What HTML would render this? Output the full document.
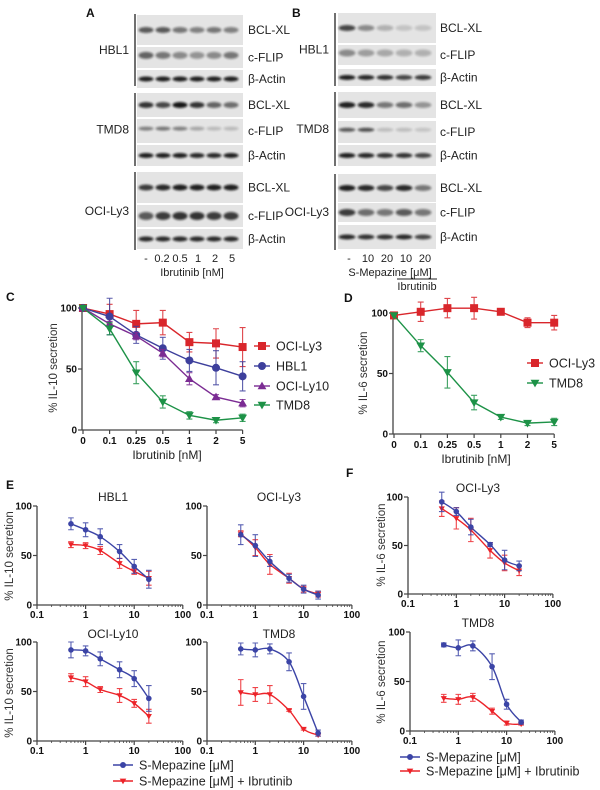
<!DOCTYPE html>
<html><head><meta charset="utf-8">
<style>
html,body{margin:0;padding:0;background:#fff;}
svg{display:block;font-family:"Liberation Sans",sans-serif;}
.lbl{font-size:12px;fill:#222;}
.pl{font-size:12px;font-weight:bold;fill:#111;}
.tk{font-size:10px;font-weight:bold;fill:#111;}
.yt{font-size:11.5px;fill:#333;}
.lg{font-size:12.5px;fill:#222;}
</style></head>
<body>
<svg id="fig" width="600" height="790" viewBox="0 0 600 790">
<defs><filter id="blur" x="-50%" y="-100%" width="200%" height="300%"><feGaussianBlur stdDeviation="1.1"/></filter></defs>
<text class="pl" x="86" y="17">A</text>
<text class="pl" x="292" y="17">B</text>
<text class="pl" x="6" y="301">C</text>
<text class="pl" x="344" y="302">D</text>
<text class="pl" x="6" y="489">E</text>
<text class="pl" x="346" y="477">F</text>
<g id="blots"></g>
<g class="lbl" text-anchor="middle" style="font-size:11px">
<text x="146" y="262">-</text><text x="162" y="262">0.2</text><text x="180" y="262">0.5</text><text x="198" y="262">1</text><text x="215" y="262">2</text><text x="232" y="262">5</text>
<text x="192" y="276">Ibrutinib [nM]</text>
</g>
<g class="lbl" text-anchor="middle" style="font-size:11px">
<text x="349" y="262">-</text><text x="368" y="262">10</text><text x="387" y="262">20</text><text x="406" y="262">10</text><text x="425" y="262">20</text>
<text x="390" y="276">S-Mepazine [μM]</text>
<line x1="397" y1="279" x2="437" y2="279" stroke="#222" stroke-width="1"/>
<text x="417" y="290">Ibrutinib</text>
</g>
<g id="charts"></g>
</svg>
<script>
const laneA = ['-', '0.2', '0.5', '1', '2', '5'];
const laneB = ['-', '10', '20', '10', '20'];
const blotA_HBL1_BCLXL = [0.6,0.6,0.45,0.4,0.45,0.4];
const blotA_HBL1_CFLIP = [0.55,0.45,0.35,0.3,0.35,0.45];
const blotA_HBL1_ACTIN = [0.9,0.9,0.9,0.9,0.9,0.9];
const blotA_TMD8_BCLXL = [0.8,0.7,0.95,0.8,0.55,0.5];
const blotA_TMD8_CFLIP = [0.4,0.45,0.4,0.2,0.1,0.1];
const blotA_TMD8_ACTIN = [0.9,0.9,0.9,0.85,0.85,0.9];
const blotA_LY3_BCLXL = [0.75,0.85,0.9,0.9,0.9,0.9];
const blotA_LY3_CFLIP = [0.6,0.75,0.8,0.8,0.75,0.75];
const blotA_LY3_ACTIN = [0.85,0.85,0.85,0.85,0.85,0.85];
const blotB_HBL1_BCLXL = [0.7,0.35,0.15,0.05,0.05];
const blotB_HBL1_CFLIP = [0.35,0.25,0.2,0.15,0.15];
const blotB_HBL1_ACTIN = [0.9,0.85,0.8,0.7,0.75];
const blotB_TMD8_BCLXL = [0.9,0.85,0.45,0.5,0.3];
const blotB_TMD8_CFLIP = [0.6,0.65,0.08,0.08,0.05];
const blotB_TMD8_ACTIN = [0.9,0.85,0.8,0.8,0.7];
const blotB_LY3_BCLXL = [0.9,0.85,0.7,0.85,0.45];
const blotB_LY3_CFLIP = [0.75,0.5,0.45,0.6,0.45];
const blotB_LY3_ACTIN = [0.85,0.8,0.8,0.85,0.7];

const ibrCats = ['0','0.1','0.25','0.5','1','2','5'];
const cTicks = [0,50,100];
const c_Ly3 = [100,95,87,88,72,71,68];
const c_Ly3_err = [0,8,11,10,8,12,16];
const c_HBL1 = [100,93,78,67,57,51,44];
const c_HBL1_err = [0,15,7,9,9,14,12];
const c_Ly10 = [100,87,77,63,42,27,22];
const c_Ly10_err = [0,2,3,3,5,2,3];
const c_TMD8 = [100,83,47,23,12,8,10];
const c_TMD8_err = [0,5,9,5,3,2,3];
const d_Ly3 = [98,101,104,104,101,92,92];
const d_Ly3_err = [0,8,8,9,2,4,6];
const d_TMD8 = [98,73,51,26,14,9,10];
const d_TMD8_err = [0,5,13,6,2,2,3];

const mepDoses = [0.5,1,2,5,10,20];
const logTicks = [0.1,1,10,100];
const logTickLabels = ['0.1','1','10','100'];
const e_HBL1_mep = [82,76,69,54,39,26];
const e_HBL1_mep_err = [6,7,8,7,7,9];
const e_HBL1_comb = [61,60,55,42,34,27];
const e_HBL1_comb_err = [3,3,4,5,3,7];
const e_Ly3_mep = [71,60,44,27,16,10];
const e_Ly3_mep_err = [10,11,5,4,4,4];
const e_Ly3_comb = [72,58,41,27,16,11];
const e_Ly3_comb_err = [3,8,10,5,3,3];
const e_Ly10_mep = [92,91,83,72,63,43];
const e_Ly10_mep_err = [8,5,7,8,8,13];
const e_Ly10_comb = [64,60,52,46,38,25];
const e_Ly10_comb_err = [4,5,3,7,4,7];
const e_TMD8_mep = [93,92,93,80,45,8];
const e_TMD8_mep_err = [6,7,5,9,13,3];
const e_TMD8_comb = [49,47,47,31,12,6];
const e_TMD8_comb_err = [13,7,9,1,1,1];
const f_Ly3_mep = [95,85,69,51,35,29];
const f_Ly3_mep_err = [10,4,8,2,10,5];
const f_Ly3_comb = [88,78,66,45,32,24];
const f_Ly3_comb_err = [8,11,12,8,8,5];
const f_TMD8_mep = [87,84,86,65,27,9];
const f_TMD8_mep_err = [2,8,5,13,5,2];
const f_TMD8_comb = [33,32,34,20,8,7];
const f_TMD8_comb_err = [4,5,4,3,2,1];

const NS = 'http://www.w3.org/2000/svg';
function mk(tag, attrs, parent){
  const e = document.createElementNS(NS, tag);
  for (const k in attrs) e.setAttribute(k, attrs[k]);
  parent.appendChild(e);
  return e;
}
const root = document.getElementById('charts');
const blots = document.getElementById('blots');

function drawBlot(x, w, laneStart, laneStep, rows, lineX, groups, labelX, labelRightX){
  rows.forEach(r => {
    const strip = mk('rect', {x:x, y:r.y, width:w, height:r.h, fill:'#e4e4e4'}, blots);
    
    
    r.vals.forEach((v,i) => {
      const b = mk('ellipse', {cx: laneStart + i*laneStep, cy: r.y + r.h*r.pos, rx: laneStep*0.44, ry: r.bh, fill:'#111', opacity: Math.min(1, v*0.9+0.1), filter:'url(#blur)'}, blots);
      
      
    });
    const t = mk('text', {x: labelX, y: r.y + r.h/2 + 4, class:'lbl'}, blots);
    t.textContent = r.name;
    
    
  });
  groups.forEach(g => {
    const l = mk('line', {x1:lineX, x2:lineX, y1:g.y1, y2:g.y2, stroke:'#222', 'stroke-width':1.3}, blots);
    
    
    const t = mk('text', {x: labelRightX, y: (g.y1+g.y2)/2 + 4, class:'lbl', 'text-anchor':'end'}, blots);
    t.textContent = g.name;
    
    
  });
}
drawBlot(137, 106, 146, 17, [
  {y:15,h:30,vals:blotA_HBL1_BCLXL,name:'BCL-XL',pos:0.5,bh:3},
  {y:47,h:21,vals:blotA_HBL1_CFLIP,name:'c-FLIP',pos:0.4,bh:3.5},
  {y:70,h:18,vals:blotA_HBL1_ACTIN,name:'β-Actin',pos:0.5,bh:2.5},
  {y:93,h:24,vals:blotA_TMD8_BCLXL,name:'BCL-XL',pos:0.5,bh:3},
  {y:119,h:24,vals:blotA_TMD8_CFLIP,name:'c-FLIP',pos:0.4,bh:2},
  {y:145,h:21,vals:blotA_TMD8_ACTIN,name:'β-Actin',pos:0.5,bh:2.5},
  {y:172,h:31,vals:blotA_LY3_BCLXL,name:'BCL-XL',pos:0.5,bh:3},
  {y:205,h:22,vals:blotA_LY3_CFLIP,name:'c-FLIP',pos:0.5,bh:4},
  {y:229,h:20,vals:blotA_LY3_ACTIN,name:'β-Actin',pos:0.5,bh:2.5}
], 135, [{y1:14,y2:86,name:'HBL1'},{y1:93,y2:166,name:'TMD8'},{y1:172,y2:250,name:'OCI-Ly3'}], 248, 129);
drawBlot(338, 98, 347, 19, [
  {y:13,h:30,vals:blotB_HBL1_BCLXL,name:'BCL-XL',pos:0.5,bh:3},
  {y:45,h:20,vals:blotB_HBL1_CFLIP,name:'c-FLIP',pos:0.4,bh:3.5},
  {y:69,h:17,vals:blotB_HBL1_ACTIN,name:'β-Actin',pos:0.5,bh:2.5},
  {y:92,h:26,vals:blotB_TMD8_BCLXL,name:'BCL-XL',pos:0.5,bh:3},
  {y:121,h:22,vals:blotB_TMD8_CFLIP,name:'c-FLIP',pos:0.4,bh:2},
  {y:145,h:21,vals:blotB_TMD8_ACTIN,name:'β-Actin',pos:0.5,bh:2.5},
  {y:174,h:28,vals:blotB_LY3_BCLXL,name:'BCL-XL',pos:0.5,bh:3},
  {y:203,h:19,vals:blotB_LY3_CFLIP,name:'c-FLIP',pos:0.5,bh:3.5},
  {y:225,h:24,vals:blotB_LY3_ACTIN,name:'β-Actin',pos:0.5,bh:2.5}
], 335, [{y1:13,y2:86,name:'HBL1'},{y1:92,y2:166,name:'TMD8'},{y1:174,y2:250,name:'OCI-Ly3'}], 440, 329);

function marker(g, shape, x, y, s, color){
  let m;
  if (shape==='square') m = mk('rect', {x:x-s, y:y-s, width:2*s, height:2*s, fill:color}, g);
  else if (shape==='circle') m = mk('circle', {cx:x, cy:y, r:s, fill:color}, g);
  else if (shape==='up') m = mk('polygon', {points:`${x},${y-s*1.1} ${x-s*1.1},${y+s*0.8} ${x+s*1.1},${y+s*0.8}`, fill:color}, g);
  else m = mk('polygon', {points:`${x},${y+s*1.1} ${x-s*1.1},${y-s*0.8} ${x+s*1.1},${y-s*0.8}`, fill:color}, g);
  
  
  return m;
}
function errbar(g, x, yl, yh, color, cap){
  const p = mk('path', {d:`M${x},${yl}V${yh}M${x-cap},${yl}H${x+cap}M${x-cap},${yh}H${x+cap}`, stroke:color, 'stroke-width':1.1, fill:'none', opacity:0.85}, g);
  
  
}
function smooth(pts){
  let d = `M${pts[0][0]},${pts[0][1]}`;
  for (let i=0;i<pts.length-1;i++){
    const p0 = pts[i-1]||pts[i], p1 = pts[i], p2 = pts[i+1], p3 = pts[i+2]||p2;
    const c1 = [p1[0]+(p2[0]-p0[0])/6, p1[1]+(p2[1]-p0[1])/6];
    const c2 = [p2[0]-(p3[0]-p1[0])/6, p2[1]-(p3[1]-p1[1])/6];
    d += `C${c1[0]},${c1[1]} ${c2[0]},${c2[1]} ${p2[0]},${p2[1]}`;
  }
  return d;
}
function yAxis(g, ax, y0, y100){
  const yS = v => y0 - v/100*(y0-y100);
  const l = mk('line', {x1:ax, x2:ax, y1:y0, y2:y100, stroke:'#444', 'stroke-width':1.3}, g);
  
  
  cTicks.forEach(t => {
    const tk = mk('line', {x1:ax-4, x2:ax, y1:yS(t), y2:yS(t), stroke:'#444', 'stroke-width':1.2}, g);
    
    
    const tx = mk('text', {x:ax-5, y:yS(t)+3.5, class:'tk', 'text-anchor':'end'}, g);
    tx.textContent = t;
    
    
  });
  return yS;
}
function yTitle(g, x, cy, text){
  const t = mk('text', {x:x, y:cy, class:'yt', 'text-anchor':'middle', transform:`rotate(-90 ${x} ${cy})`}, g);
  t.textContent = text;
  
  
}

function catChart(name, ax, step, y0, y100, series){
  const g = mk('g', {}, root);
  
  
  const yS = yAxis(g, ax, y0, y100);
  const xS = i => ax + 1 + i*step;
  const xl = mk('line', {x1:ax, x2:xS(ibrCats.length-1), y1:y0, y2:y0, stroke:'#444', 'stroke-width':1.3}, g);
  
  
  ibrCats.forEach((c,i) => {
    const tk = mk('line', {x1:xS(i), x2:xS(i), y1:y0, y2:y0+4, stroke:'#444', 'stroke-width':1.2}, g);
    
    
    const tx = mk('text', {x:xS(i), y:y0+14, class:'tk', 'text-anchor':'middle'}, g);
    tx.textContent = c;
    
    
  });
  series.forEach(s => {
    const sg = mk('g', {}, g);
    
    
    s.vals.forEach((v,i) => { if (s.err[i]) errbar(sg, xS(i), yS(v-s.err[i]), yS(v+s.err[i]), s.color, 3); });
    const pl = mk('polyline', {points: s.vals.map((v,i)=>`${xS(i)},${yS(v)}`).join(' '), fill:'none', stroke:s.color, 'stroke-width':1.4}, sg);
    
    
    s.vals.forEach((v,i) => marker(sg, s.shape, xS(i), yS(v), 4, s.color));
  });
  return g;
}
function legendEntry(g, x, y, shape, color, text, lineW, s){
  const lg = mk('g', {}, g);
  
  
  const l = mk('line', {x1:x-lineW, x2:x+lineW, y1:y, y2:y, stroke:color, 'stroke-width':1.4}, lg);
  
  
  marker(lg, shape, x, y, s, color);
  const t = mk('text', {x:x+lineW+6, y:y+4.5, class:'lg'}, lg);
  t.textContent = text;
  
  
}
const RED='#d9262b', BLUE='#3d3f9c', PURP='#7b2c93', GREEN='#1d9247';
const gC = catChart('chart-c-il10', 82, 26.6, 430, 308, [
  {key:'ocily3', vals:c_Ly3, err:c_Ly3_err, color:RED, shape:'square'},
  {key:'hbl1', vals:c_HBL1, err:c_HBL1_err, color:BLUE, shape:'circle'},
  {key:'ocily10', vals:c_Ly10, err:c_Ly10_err, color:PURP, shape:'up'},
  {key:'tmd8', vals:c_TMD8, err:c_TMD8_err, color:GREEN, shape:'down'}
]);
yTitle(gC, 57, 368, '% IL-10 secretion');
legendEntry(gC, 262, 346, 'square', RED, 'OCI-Ly3', 8, 4);
legendEntry(gC, 262, 366, 'circle', BLUE, 'HBL1', 8, 4);
legendEntry(gC, 262, 386, 'up', PURP, 'OCI-Ly10', 8, 4);
legendEntry(gC, 262, 405, 'down', GREEN, 'TMD8', 8, 4);
{ const t = mk('text', {x:167, y:459, class:'lbl', 'text-anchor':'middle'}, gC);
  t.textContent = 'Ibrutinib [nM]';
  
   }

const gD = catChart('chart-d-il6', 393, 26.7, 434, 313, [
  {key:'ocily3', vals:d_Ly3, err:d_Ly3_err, color:RED, shape:'square'},
  {key:'tmd8', vals:d_TMD8, err:d_TMD8_err, color:GREEN, shape:'down'}
]);
yTitle(gD, 367, 373, '% IL-6 secretion');
legendEntry(gD, 535, 363, 'square', RED, 'OCI-Ly3', 8, 4);
legendEntry(gD, 535, 383, 'down', GREEN, 'TMD8', 8, 4);
{ const t = mk('text', {x:476, y:463, class:'lbl', 'text-anchor':'middle'}, gD);
  t.textContent = 'Ibrutinib [nM]';
  
   }

const MB='#3b44a6', MR='#ec2329';
function logChart(name, title, ax, dec, y0, y100, titleX, titleY, mep, mepErr, comb, combErr){
  const g = mk('g', {}, root);
  
  
  const yS = yAxis(g, ax, y0, y100);
  const xS = v => ax + (Math.log10(v)+1)*dec;
  const xl = mk('line', {x1:ax, x2:xS(100), y1:y0, y2:y0, stroke:'#444', 'stroke-width':1.3}, g);
  
  
  for (let d=0.1; d<100; d*=10){
    for (let k=2;k<10;k++){
      const mt = mk('line', {x1:xS(d*k), x2:xS(d*k), y1:y0, y2:y0+2, stroke:'#444', 'stroke-width':0.8}, g);
      
      
    }
  }
  logTicks.forEach((v,i) => {
    const tk = mk('line', {x1:xS(v), x2:xS(v), y1:y0, y2:y0+4, stroke:'#444', 'stroke-width':1.2}, g);
    
    
    const tx = mk('text', {x:xS(v), y:y0+13, class:'tk', 'text-anchor':'middle'}, g);
    tx.textContent = logTickLabels[i];
    
    
  });
  const tt = mk('text', {x:titleX, y:titleY, class:'lbl', 'text-anchor':'middle'}, g);
  tt.textContent = title;
  
  
  [[comb, combErr, MR, 'down', 'combination'], [mep, mepErr, MB, 'circle', 'mepazine']].forEach(([vals, err, col, shape, key]) => {
    const sg = mk('g', {}, g);
    
    
    vals.forEach((v,i) => errbar(sg, xS(mepDoses[i]), yS(v-err[i]), yS(v+err[i]), col, 2.8));
    const c = mk('path', {d: smooth(vals.map((v,i)=>[xS(mepDoses[i]), yS(v)])), fill:'none', stroke:col, 'stroke-width':1.4}, sg);
    
    
    vals.forEach((v,i) => marker(sg, shape, xS(mepDoses[i]), yS(v), 2.8, col));
  });
  return g;
}
const gE1 = logChart('chart-e-hbl1', 'HBL1', 37, 48.6, 605, 506, 113, 501, e_HBL1_mep, e_HBL1_mep_err, e_HBL1_comb, e_HBL1_comb_err);
yTitle(gE1, 13, 556, '% IL-10 secretion');
logChart('chart-e-ocily3', 'OCI-Ly3', 207, 48.3, 605, 506, 279, 501, e_Ly3_mep, e_Ly3_mep_err, e_Ly3_comb, e_Ly3_comb_err);
const gE3 = logChart('chart-e-ocily10', 'OCI-Ly10', 37, 48.6, 741, 642, 113, 638, e_Ly10_mep, e_Ly10_mep_err, e_Ly10_comb, e_Ly10_comb_err);
yTitle(gE3, 13, 693, '% IL-10 secretion');
logChart('chart-e-tmd8', 'TMD8', 207, 48.3, 741, 642, 279, 638, e_TMD8_mep, e_TMD8_mep_err, e_TMD8_comb, e_TMD8_comb_err);
const gF1 = logChart('chart-f-ocily3', 'OCI-Ly3', 408, 48.3, 594, 497, 478, 492, f_Ly3_mep, f_Ly3_mep_err, f_Ly3_comb, f_Ly3_comb_err);
yTitle(gF1, 385, 545, '% IL-6 secretion');
const gF2 = logChart('chart-f-tmd8', 'TMD8', 410, 48.3, 731, 632, 478, 627, f_TMD8_mep, f_TMD8_mep_err, f_TMD8_comb, f_TMD8_comb_err);
yTitle(gF2, 385, 682, '% IL-6 secretion');

const legE = mk('g', {}, root);


legendEntry(legE, 123, 765, 'circle', MB, 'S-Mepazine [μM]', 10, 3);
legendEntry(legE, 123, 781, 'down', MR, 'S-Mepazine [μM] + Ibrutinib', 10, 3);
const legF = mk('g', {}, root);


legendEntry(legF, 410, 757, 'circle', MB, 'S-Mepazine [μM]', 10, 3);
legendEntry(legF, 410, 771, 'down', MR, 'S-Mepazine [μM] + Ibrutinib', 10, 3);
</script>
</body></html>
